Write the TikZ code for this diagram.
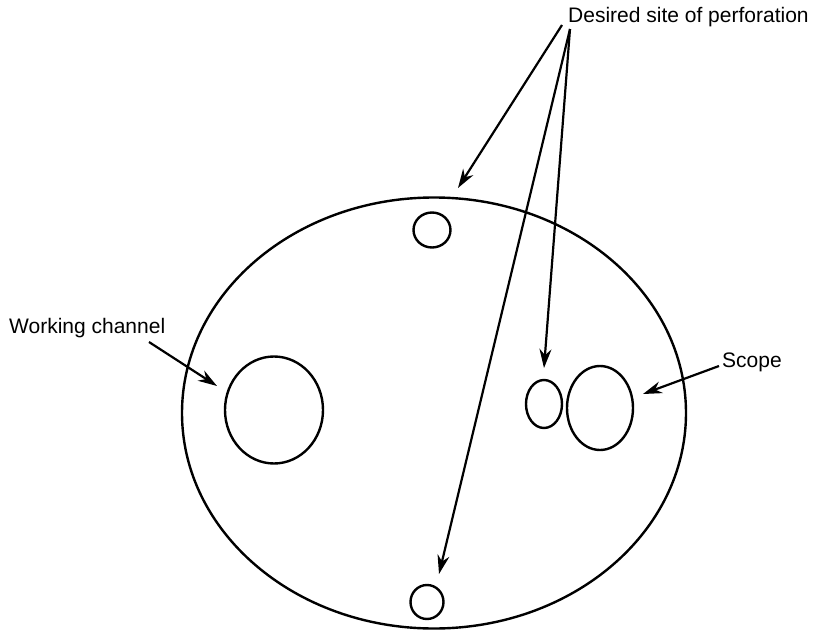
\documentclass[tikz,border=0pt]{standalone}
\usepackage{fontspec}
\setmainfont{Liberation Sans}
\usetikzlibrary{arrows.meta,shapes.geometric}

\begin{document}
\begin{tikzpicture}[
    x=1pt, y=-1pt,
    ring/.style={draw, ellipse, line width=2.4pt, inner sep=0pt},
    label/.style={font=\fontsize{21}{25}\selectfont, inner sep=0pt, anchor=base west},
    arrow/.style={line width=2.2pt, -{Stealth[length=19pt,width=12pt]}}
]
\useasboundingbox (0,0) rectangle (820,632);

% outline of the scope tip and its openings
\node[ring, minimum width=504pt, minimum height=431pt] (tip) at (434,413) {};
\node[ring, minimum width=37pt, minimum height=35pt] (sitetop) at (432,230) {};
\node[ring, minimum width=33pt, minimum height=34pt] (sitebottom) at (427,602) {};
\node[ring, minimum width=98pt, minimum height=107pt] (channel) at (274,410) {};
\node[ring, minimum width=36pt, minimum height=48pt] (siteright) at (544,404) {};
\node[ring, minimum width=66pt, minimum height=84pt] (scope) at (600,408) {};

% labels
\node[label] (desired) at (568,22) {Desired site of perforation};
\node[label] (working) at (9,333) {Working channel};
\node[label] (scopelabel) at (722,367) {Scope};

% arrow ends
\coordinate (desiredA) at (562,25);
\coordinate (desiredB) at (570,29);
\coordinate (workingA) at (149,342);
\coordinate (scopeA) at (719,366);
\coordinate (toptip) at (458,188);
\coordinate (bottomtip) at (439,574);
\coordinate (righttip) at (544,368);
\coordinate (channeltip) at (217,386);
\coordinate (scopetip) at (643,394);

\draw[arrow] (desiredA) -- (toptip);
\draw[arrow] (desiredB) -- (bottomtip);
\draw[arrow] (desiredB) -- (righttip);
\draw[arrow] (workingA) -- (channeltip);
\draw[arrow] (scopeA) -- (scopetip);
\end{tikzpicture}
\end{document}
